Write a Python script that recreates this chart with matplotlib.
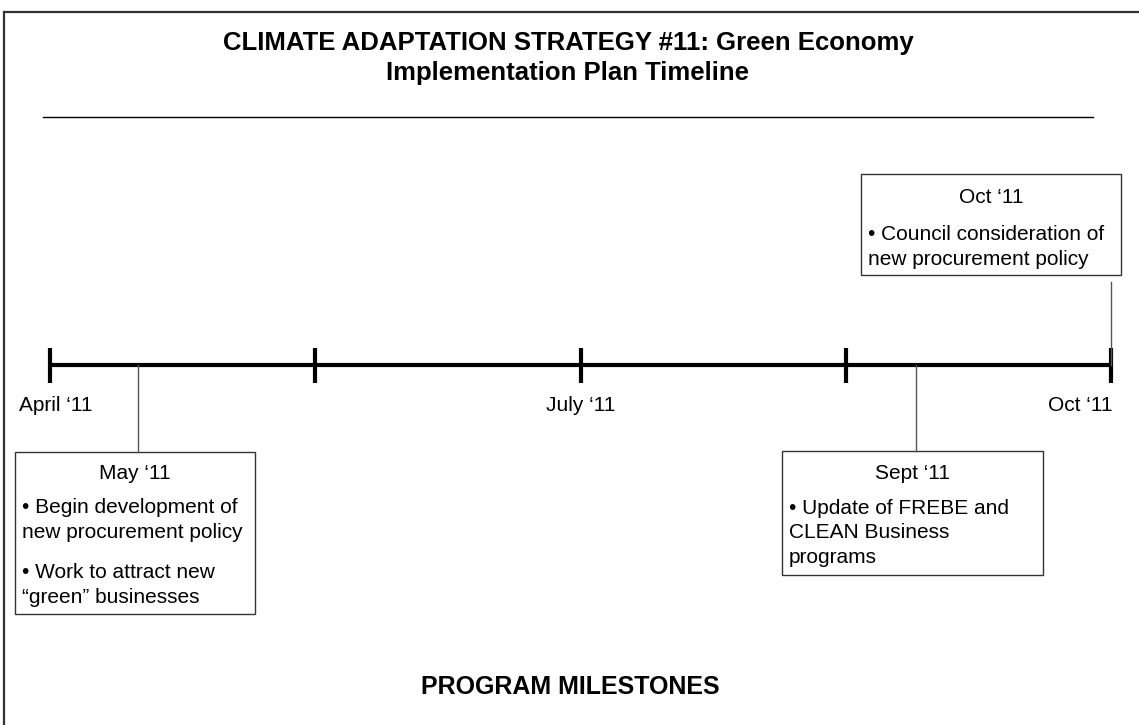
import matplotlib.pyplot as plt
from matplotlib.patches import Rectangle

plt.rcParams['font.family'] = ['Liberation Sans', 'DejaVu Sans']

# timeline data (months counted from April '11)
tick_months = [0, 1.5, 3, 4.5, 6]
tick_labels = ['April \u201811', '', 'July \u201811', '', 'Oct \u201811']
milestone_months = [0.5, 4.9, 6.0]
milestone_titles = ['May \u201811', 'Sept \u201811', 'Oct \u201811']
milestone_items = [
    ['\u2022 Begin development of\nnew procurement policy',
     '\u2022 Work to attract new\n\u201cgreen\u201d businesses'],
    ['\u2022 Update of FREBE and\nCLEAN Business\nprograms'],
    ['\u2022 Council consideration of\nnew procurement policy'],
]

title = 'CLIMATE ADAPTATION STRATEGY #11: Green Economy\nImplementation Plan Timeline'
footer = 'PROGRAM MILESTONES'

W, H = 1139, 725
x_start, x_end = 50, 1111          # pixel position of first / last tick
k = (x_end - x_start) / (tick_months[-1] - tick_months[0])  # px per month

fig = plt.figure(figsize=(W / 100, H / 100), dpi=100)
ax = fig.add_axes([0, 0, 1, 1])
ax.set_xlim(-x_start / k, (W - x_start) / k)
ax.set_ylim(H, 0)
ax.axis('off')

def xm(p):
    # pixel x -> months
    return (p - x_start) / k

# page border (left and top)
ax.plot([xm(4), xm(4)], [12, H], color='#333333', lw=1.6)
ax.plot([xm(4), xm(W)], [12, 12], color='#333333', lw=1.6)

# title and rule
ax.text(xm(568), 58, title, ha='center', va='center',
        fontsize=18.5, fontweight='bold', linespacing=1.3)
ax.plot([xm(43), xm(1093)], [117, 117], color='black', lw=1)

# timeline
line_y = 365
ax.plot([tick_months[0], tick_months[-1]], [line_y, line_y], color='black', lw=3, solid_capstyle='butt')
for m in tick_months:
    ax.plot([m, m], [line_y - 17, line_y + 18], color='black', lw=3, solid_capstyle='butt')

label_offset = [6, 0, 2]
label_ha = ['center', 'center', 'right']
j = 0
for m, lab in zip(tick_months, tick_labels):
    if lab:
        ax.text(m + label_offset[j] / k, 405, lab, ha=label_ha[j], va='center', fontsize=15)
        j += 1

# milestone boxes: (left, top, right, bottom) in pixels, plus text layout
boxes = [(15, 452, 255, 614), (782, 451, 1043, 575), (861, 174, 1121, 275)]
title_y = [473, 473, 197]
item_y = [[520, 585], [533], [247]]

for i, m in enumerate(milestone_months):
    l, t, r, b = boxes[i]
    # connector
    if t > line_y:
        ax.plot([m, m], [line_y, t], color='#555555', lw=1)
    else:
        ax.plot([m, m], [b + 7, line_y], color='#555555', lw=1)
    ax.add_patch(Rectangle((xm(l), t), (r - l) / k, b - t,
                           fill=False, edgecolor='#333333', lw=1))
    ax.text(xm((l + r) / 2), title_y[i], milestone_titles[i],
            ha='center', va='center', fontsize=15)
    for y, item in zip(item_y[i], milestone_items[i]):
        ax.text(xm(l + 7), y, item, ha='left', va='center',
                fontsize=15, linespacing=1.37)

ax.text(xm(570), 687, footer, ha='center', va='center',
        fontsize=18, fontweight='bold')

fig.savefig('out.png', dpi=100)
